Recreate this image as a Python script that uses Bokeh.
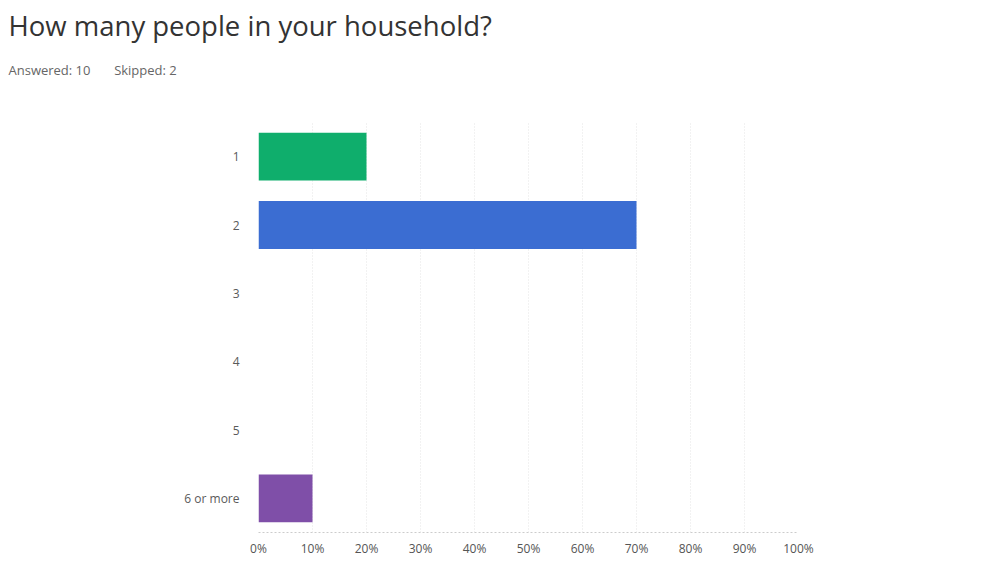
from bokeh.plotting import figure
from bokeh.models import Title, FixedTicker
from bokeh.embed import file_html
from bokeh.resources import INLINE

categories = ["1", "2", "3", "4", "5", "6 or more"]
percent = [20, 70, 0, 0, 0, 10]
colors = ["#0fae6c", "#3b6dd2", "#7f4fa8", "#7f4fa8", "#7f4fa8", "#7f4fa8"]
x_ticks = [0, 10, 20, 30, 40, 50, 60, 70, 80, 90, 100]
title_text = "How many people in your household?"
subtitle_text = "Answered: 10" + "\u00a0" * 7 + "Skipped: 2"

p = figure(width=1005, height=581, y_range=list(reversed(categories)), x_range=(0, 100),
           output_backend="svg", toolbar_location=None,
           min_border_left=258, min_border_right=207, min_border_top=122, min_border_bottom=49)
p.title.visible = False
p.outline_line_color = None
p.background_fill_color = "white"

p.hbar(y=categories, right=percent, left=0, height=0.7, fill_color=colors, line_color=None)

p.xaxis.ticker = FixedTicker(ticks=x_ticks)
p.xaxis.major_label_overrides = {t: f"{t}%" for t in x_ticks}
p.xaxis.axis_line_color = "#cccccc"
p.xaxis.axis_line_dash = "2 2"
p.xaxis.major_tick_line_color = None
p.xaxis.minor_tick_line_color = None
p.xaxis.major_label_text_font = "Open Sans"
p.xaxis.major_label_text_font_size = "12px"
p.xaxis.major_label_text_color = "#555555"
p.xaxis.major_label_standoff = 1

p.yaxis.axis_line_color = None
p.yaxis.major_tick_line_color = None
p.yaxis.minor_tick_line_color = None
p.yaxis.major_label_text_font = "Open Sans"
p.yaxis.major_label_text_font_size = "12px"
p.yaxis.major_label_text_color = "#5a5a5a"
p.yaxis.major_label_standoff = 13

p.xgrid.ticker = FixedTicker(ticks=x_ticks)
p.xgrid.grid_line_color = "#e4e4e4"
p.xgrid.grid_line_dash = "1 2"
p.ygrid.grid_line_color = None

sub = Title(text=subtitle_text, align="left", offset=-250, standoff=87,
            text_font="Open Sans", text_font_size="13px", text_color="#666666",
            text_font_style="normal")
main = Title(text=title_text, align="left", offset=-250, standoff=-56,
             text_font="Open Sans", text_font_size="27.5px", text_color="#333333",
             text_font_style="normal")
p.add_layout(sub, "above")
p.add_layout(main, "above")

open("out.html", "w").write(file_html(p, INLINE))
